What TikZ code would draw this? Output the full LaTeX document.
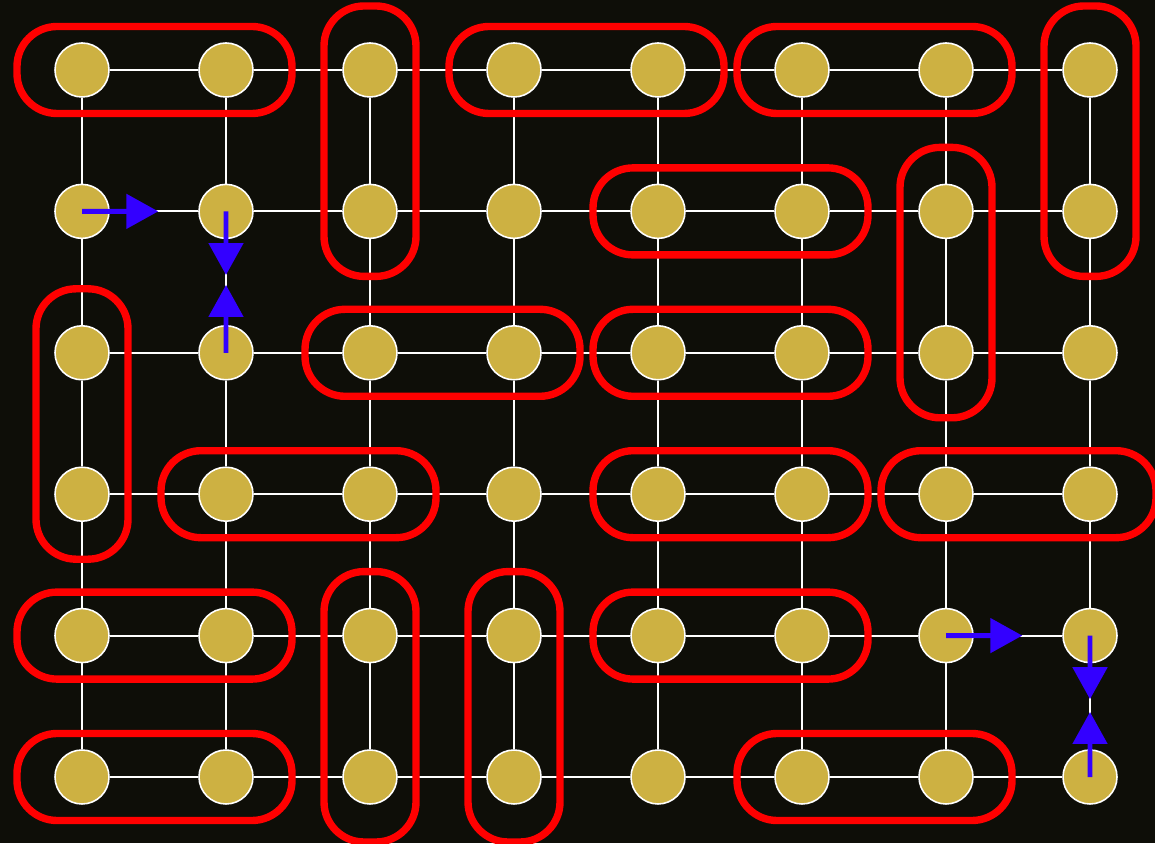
\documentclass[tikz,border=0pt]{standalone}
\usepackage{tikz}
\usepackage{xcolor}
\usetikzlibrary{arrows.meta,calc}

\definecolor{bgdark}{RGB}{14,14,8}
\definecolor{sitegold}{RGB}{205,177,66}
\definecolor{spinblue}{RGB}{51,0,255}

\tikzset{
  site/.style={circle, fill=sitegold, draw=white, line width=0.9pt, minimum size=1.08cm, inner sep=0pt},
  bond/.style={draw=white, line width=1.1pt},
  dimer/.style={draw=red, line width=4.2pt, rounded corners=0.8cm},
  spin/.style={spinblue, line width=2.8pt, -{Triangle[length=0.64cm,width=0.68cm]}}
}

\begin{document}
\begin{tikzpicture}
      % background
      \fill[bgdark] (0,0) rectangle (23.1,16.86);
      \useasboundingbox (0,0) rectangle (23.1,16.86);

      % lattice sites
      \foreach \c in {0,...,7}
        \foreach \r in {0,...,5}
          \node[site] (n-\c-\r) at ({1.64+2.88*\c},{15.46-2.828*\r}) {};

      % bonds
      \foreach \r in {0,...,5} {
        \foreach \c in {0,...,6} {
          \pgfmathtruncatemacro{\cn}{\c+1}
          \draw[bond] (n-\c-\r) -- (n-\cn-\r);
        }
      }
      \foreach \c in {0,...,7} {
        \foreach \r in {0,...,4} {
          \pgfmathtruncatemacro{\rn}{\r+1}
          \draw[bond] (n-\c-\r) -- (n-\c-\rn);
        }
      }

      % horizontal dimers
      \foreach \c/\r [evaluate=\c as \cn using int(\c+1)] in {0/0,3/0,5/0,4/1,2/2,4/2,1/3,4/3,6/3,0/4,4/4,0/5,5/5}
        \draw[dimer] ($(n-\c-\r)+(-1.30,-0.87)$) rectangle ($(n-\cn-\r)+(1.32,0.87)$);

      % vertical dimers
      \foreach \c/\r [evaluate=\r as \rn using int(\r+1)] in {2/0,7/0,6/1,0/2,2/4,3/4}
        \draw[dimer] ($(n-\c-\rn)+(-0.92,-1.30)$) rectangle ($(n-\c-\r)+(0.92,1.28)$);

      % spins
      \coordinate (t-1) at ($(n-0-1)!0.53!(n-1-1)$);
      \coordinate (t-2) at ($(n-1-1)!0.45!(n-1-2)$);
      \coordinate (t-3) at ($(n-1-2)!0.48!(n-1-1)$);
      \coordinate (t-4) at ($(n-6-4)!0.53!(n-7-4)$);
      \coordinate (t-5) at ($(n-7-4)!0.45!(n-7-5)$);
      \coordinate (t-6) at ($(n-7-5)!0.46!(n-7-4)$);
      \draw[spin] (n-0-1.center) -- (t-1);
      \draw[spin] (n-1-1.center) -- (t-2);
      \draw[spin] (n-1-2.center) -- (t-3);
      \draw[spin] (n-6-4.center) -- (t-4);
      \draw[spin] (n-7-4.center) -- (t-5);
      \draw[spin] (n-7-5.center) -- (t-6);
    \end{tikzpicture}
\end{document}
